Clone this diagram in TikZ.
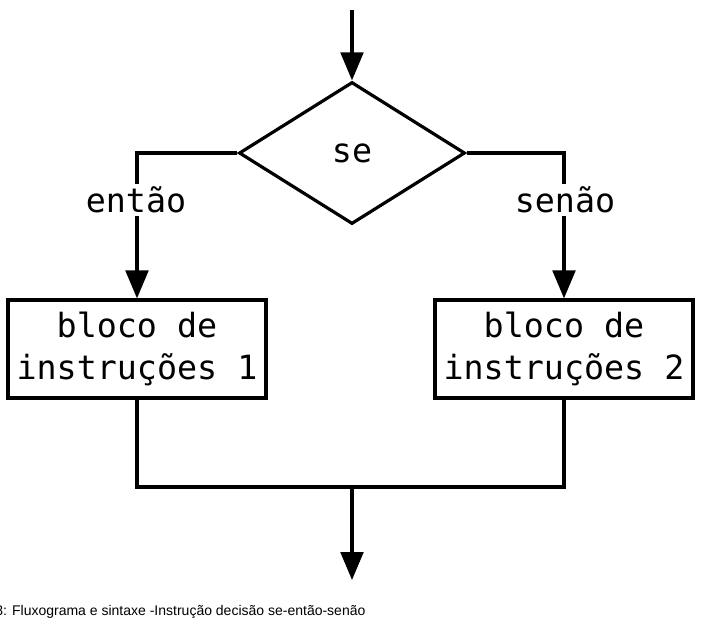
\documentclass[tikz,border=0pt]{standalone}
\usepackage{fontspec}
\setmainfont{Liberation Sans}
\newfontfamily\codefont{DejaVu Sans Mono}
\usetikzlibrary{arrows.meta,shapes.geometric}
\begin{document}
\begin{tikzpicture}[x=0.75pt,y=-0.75pt,
  ln/.style={line width=2.4pt},
  arr/.style={ln,-{Triangle[length=21pt,width=17pt]}},
  lbl/.style={font=\codefont\fontsize{25}{31}\selectfont,fill=white,inner sep=2pt},
  box/.style={draw,ln,minimum width=193.5pt,minimum height=73.5pt,align=center,font=\codefont\fontsize{25}{31}\selectfont}]
\useasboundingbox (0,0) rectangle (705,626);
\coordinate (top) at (352,10);
\node[draw,ln,diamond,minimum width=169.5pt,minimum height=106.5pt,inner sep=0pt] (d) at (352,153) {};
\node[font=\codefont\fontsize{25}{31}\selectfont] at (352,153) {se};
\node[box] (b1) at (137,349) {bloco de\\instruções 1};
\node[box] (b2) at (564,349) {bloco de\\instruções 2};
\coordinate (j) at (352,487);
\coordinate (end) at (352,580);
\draw[arr] (top) -- (d.north);
\draw[arr] (d.west) -| (b1.north);
\draw[arr] (d.east) -| (b2.north);
\node[lbl] (l1) at (136,200) {então};
\node[lbl] (l2) at (565,200) {senão};
\draw[ln] (b1.south) |- (j) -| (b2.south);
\draw[arr] (j) -- (end);
\node[anchor=west,font=\fontsize{10.5}{12}\selectfont,inner sep=0pt] (cap) at (-5,612) {3: Fluxograma e sintaxe -Instrução decisão se-então-senão};
\end{tikzpicture}
\end{document}
